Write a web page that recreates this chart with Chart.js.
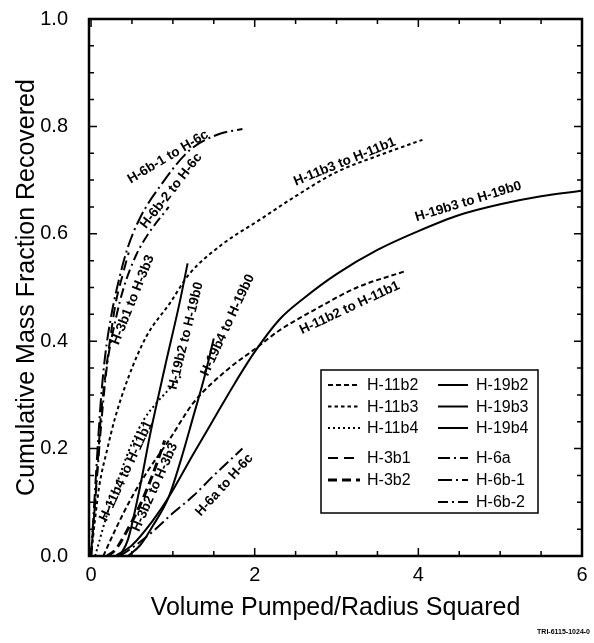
<!DOCTYPE html>
<html>
<head>
<meta charset="utf-8">
<script src="https://cdn.jsdelivr.net/npm/chart.js@4.4.0/dist/chart.umd.min.js"></script>
<style>
  html, body { margin: 0; padding: 0; background: #fff; }
</style>
</head>
<body>
<canvas id="myChart" width="594" height="643"></canvas>
<script>
// series values: [volume/r^2, mass fraction]
const h11b2 = [[0.15,0],[0.3,0.05],[0.5,0.11],[0.7,0.16],[0.95,0.215],[1.25,0.285],[1.65,0.345],[2,0.385],[2.3,0.42],[2.75,0.46],[3.25,0.5],[3.83,0.53]];
const h11b3 = [[0,0],[0.05,0.07],[0.1,0.13],[0.2,0.2],[0.29,0.255],[0.45,0.33],[0.68,0.41],[0.96,0.47],[1.2,0.525],[1.6,0.58],[2.05,0.625],[2.5,0.67],[3,0.715],[3.5,0.745],[4.05,0.775]];
const h11b4 = [[0.05,0],[0.2,0.08],[0.35,0.15],[0.5,0.21],[0.65,0.255],[0.8,0.285],[0.95,0.31],[1.1,0.335]];
const h19b2 = [[0.35,0],[0.45,0.03],[0.6,0.13],[0.72,0.225],[0.9,0.35],[1.09,0.477],[1.18,0.545]];
const h19b3 = [[0.3,0],[0.5,0.02],[0.75,0.065],[0.95,0.11],[1.25,0.19],[1.5,0.255],[1.75,0.32],[2,0.38],[2.3,0.44],[2.6,0.48],[3,0.525],[3.5,0.57],[4,0.605],[4.5,0.635],[5,0.655],[5.5,0.67],[6,0.68]];
const h19b4 = [[0.45,0],[0.6,0.02],[0.75,0.055],[0.95,0.11],[1.1,0.18],[1.25,0.26],[1.38,0.33],[1.5,0.405]];
const h3b1 = [[0,0],[0.04,0.08],[0.08,0.17],[0.12,0.26],[0.17,0.33],[0.23,0.4],[0.3,0.47],[0.38,0.52],[0.46,0.565]];
const h3b2 = [[0.2,0],[0.3,0.012],[0.45,0.05],[0.6,0.095],[0.75,0.15],[0.9,0.215]];
const h6a = [[0.35,0],[0.5,0.015],[0.75,0.045],[1,0.08],[1.25,0.112],[1.5,0.15],[1.85,0.2]];
const h6b1 = [[0,0],[0.04,0.1],[0.08,0.2],[0.12,0.29],[0.17,0.37],[0.25,0.45],[0.35,0.52],[0.45,0.575],[0.6,0.63],[0.85,0.69],[1.2,0.755],[1.55,0.785],[1.85,0.795]];
const h6b2 = [[0,0],[0.05,0.1],[0.1,0.2],[0.15,0.29],[0.2,0.36],[0.3,0.44],[0.4,0.5],[0.55,0.56],[0.7,0.6],[0.95,0.65]];

// tick labels
const xTicks = [0, 2, 4, 6];
const yTicks = [0, 0.2, 0.4, 0.6, 0.8, 1.0];

// curve labels written on the plot (data coords + angle in degrees)
const curveNotes = [
  ["H-6b-1 to H-6c", 0.94, 0.743, -31],
  ["H-6b-2 to H-6c", 0.98, 0.68, -52],
  ["H-3b1 to H-3b3", 0.51, 0.477, -68],
  ["H-19b2 to H-19b0", 1.16, 0.41, -76],
  ["H-19b4 to H-19b0", 1.67, 0.43, -65],
  ["H-11b4 to H-11b1", 0.43, 0.158, -65],
  ["H-3b2 to H-3b3", 0.78, 0.128, -66],
  ["H-6a to H-6c", 1.63, 0.132, -48],
  ["H-11b3 to H-11b1", 3.1, 0.734, -22],
  ["H-19b3 to H-19b0", 4.61, 0.66, -17],
  ["H-11b2 to H-11b1", 3.16, 0.462, -25]
];

// legend columns (null = spacer row)
const legendLeft = ["H-11b2", "H-11b3", "H-11b4", null, "H-3b1", "H-3b2"];
const legendRight = ["H-19b2", "H-19b3", "H-19b4", null, "H-6a", "H-6b-1", "H-6b-2"];

const FONT = "'Liberation Sans', Arial, Helvetica, sans-serif";
Chart.defaults.font.family = FONT;
Chart.defaults.color = "#000";

function pts(arr) {
  return arr.map(p => ({ x: p[0], y: p[1] }));
}

function series(label, arr, dash, width) {
  return {
    label: label,
    data: pts(arr),
    borderColor: "#000",
    borderWidth: width || 2,
    borderDash: dash,
    pointRadius: 0,
    fill: false,
    cubicInterpolationMode: "monotone"
  };
}

const datasets = [
  series("H-11b2", h11b2, [5, 3]),
  series("H-11b3", h11b3, [3.5, 3]),
  series("H-11b4", h11b4, [2, 3]),
  series("H-19b2", h19b2, []),
  series("H-19b3", h19b3, []),
  series("H-19b4", h19b4, []),
  series("H-3b1", h3b1, [10, 6]),
  series("H-3b2", h3b2, [9, 5], 3),
  series("H-6a", h6a, [12, 4, 2, 4]),
  series("H-6b-1", h6b1, [14, 4, 2, 4]),
  series("H-6b-2", h6b2, [10, 4, 2, 4])
];

// box with inward ticks on all four sides
const framePlugin = {
  id: "frame",
  afterDraw(chart) {
    const { ctx, chartArea: a, scales: { x, y } } = chart;
    ctx.save();
    ctx.strokeStyle = "#000";
    ctx.lineWidth = 1.5;
    ctx.beginPath();
    for (let i = 0; i <= 12; i++) {
      const px = x.getPixelForValue(i * 0.5);
      const len = (i % 4 === 0) ? 8 : 5;
      ctx.moveTo(px, a.bottom); ctx.lineTo(px, a.bottom - len);
      ctx.moveTo(px, a.top); ctx.lineTo(px, a.top + len);
    }
    for (let i = 0; i <= 20; i++) {
      const py = y.getPixelForValue(i * 0.05);
      const len = (i % 4 === 0) ? 8 : 5;
      ctx.moveTo(a.left, py); ctx.lineTo(a.left + len, py);
      ctx.moveTo(a.right, py); ctx.lineTo(a.right - len, py);
    }
    ctx.stroke();
    ctx.lineWidth = 2.5;
    ctx.strokeRect(a.left, a.top, a.right - a.left, a.bottom - a.top);

    // small figure id
    ctx.fillStyle = "#000";
    ctx.font = "bold 7px " + FONT;
    ctx.textAlign = "right";
    ctx.textBaseline = "middle";
    ctx.fillText("TRI-6115-1024-0", 590, 632);
    ctx.restore();
  }
};

// labels along the curves
const notesPlugin = {
  id: "notes",
  afterDatasetsDraw(chart) {
    const { ctx, scales: { x, y } } = chart;
    ctx.save();
    ctx.fillStyle = "#000";
    ctx.font = "bold 13.5px " + FONT;
    ctx.textAlign = "center";
    ctx.textBaseline = "middle";
    curveNotes.forEach(n => {
      ctx.save();
      ctx.translate(x.getPixelForValue(n[1]), y.getPixelForValue(n[2]));
      ctx.rotate(n[3] * Math.PI / 180);
      ctx.fillText(n[0], 0, 0);
      ctx.restore();
    });
    ctx.restore();
  }
};

// two-column legend box inside the plot
const legendPlugin = {
  id: "boxLegend",
  afterDraw(chart) {
    const ctx = chart.ctx;
    const byLabel = {};
    chart.data.datasets.forEach(d => { byLabel[d.label] = d; });
    const rowY = i => (i < 3 ? 385 + i * 21.5 : 458 + (i - 4) * 22);
    ctx.save();
    ctx.fillStyle = "#fff";
    ctx.fillRect(321, 370, 217, 143);
    ctx.strokeStyle = "#000";
    ctx.lineWidth = 1.5;
    ctx.strokeRect(321, 370, 217, 143);
    ctx.font = "16px " + FONT;
    ctx.textBaseline = "middle";
    ctx.textAlign = "left";
    const cols = [[legendLeft, 328, 360, 367], [legendRight, 438, 468, 476]];
    cols.forEach(c => {
      c[0].forEach((name, i) => {
        if (!name) return;
        const d = byLabel[name];
        const yy = rowY(i);
        ctx.strokeStyle = "#000";
        ctx.lineWidth = d.borderWidth;
        ctx.setLineDash(d.borderDash);
        ctx.beginPath();
        ctx.moveTo(c[1], yy);
        ctx.lineTo(c[2], yy);
        ctx.stroke();
        ctx.setLineDash([]);
        ctx.fillStyle = "#000";
        ctx.fillText(name, c[3], yy + 1);
      });
    });
    ctx.restore();
  }
};

const ctx = document.getElementById("myChart").getContext("2d");
const myChart = new Chart(ctx, {
  type: "line",
  data: { datasets: datasets },
  options: {
    responsive: false,
    animation: false,
    layout: { padding: { top: 19, right: 12, left: 0, bottom: 0 } },
    plugins: {
      legend: { display: false },
      tooltip: { enabled: false }
    },
    scales: {
      x: {
        type: "linear",
        min: -0.025,
        max: 6,
        afterBuildTicks: s => { s.ticks = xTicks.map(v => ({ value: v })); },
        afterFit: s => { s.height = 87; s.paddingLeft = 0; s.paddingRight = 0; },
        ticks: { font: { size: 20 }, padding: 7, maxRotation: 0, callback: v => String(v) },
        grid: { display: false, drawTicks: false },
        border: { display: false },
        title: {
          display: true,
          text: "Volume Pumped/Radius Squared",
          font: { size: 25 },
          padding: { top: 0, bottom: 20 }
        }
      },
      y: {
        type: "linear",
        min: 0,
        max: 1,
        afterBuildTicks: s => { s.ticks = yTicks.map(v => ({ value: v })); },
        afterFit: s => { s.width = 89; s.paddingTop = 0; s.paddingBottom = 0; },
        ticks: { font: { size: 20 }, padding: 21, callback: v => Number(v).toFixed(1) },
        grid: { display: false, drawTicks: false },
        border: { display: false },
        title: {
          display: true,
          text: "Cumulative Mass Fraction Recovered",
          font: { size: 25 },
          padding: { top: 12, bottom: 0 }
        }
      }
    }
  },
  plugins: [notesPlugin, framePlugin, legendPlugin]
});
</script>
</body>
</html>
